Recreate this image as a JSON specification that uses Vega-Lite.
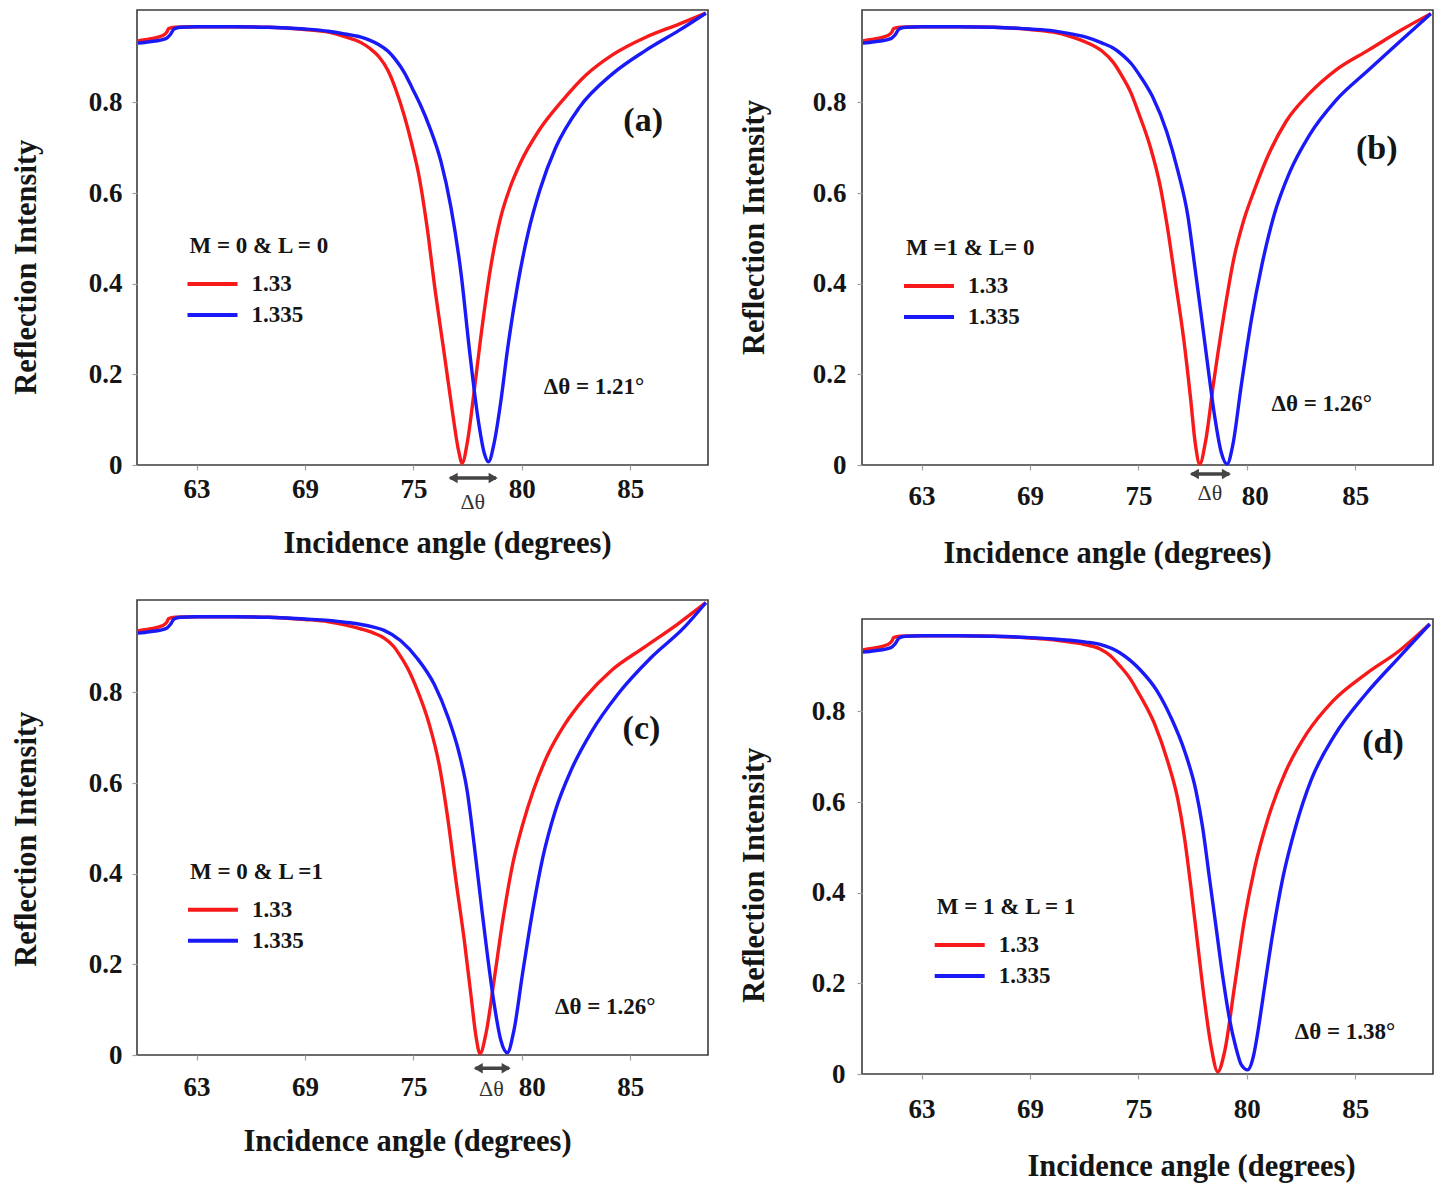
{
  "$schema": "https://vega.github.io/schema/vega-lite/v6.json",
  "background": "white",
  "padding": {"left": 10, "top": 5, "right": 4, "bottom": 4},
  "config": {
    "font": "Liberation Serif",
    "view": {"stroke": "#3c3c3c", "strokeWidth": 1.6},
    "axis": {
      "domain": false, "grid": false, "tickColor": "#a0a0a0", "tickSize": 5, "tickWidth": 1.2,
      "labelFont": "Liberation Serif", "labelFontWeight": "bold", "labelFontSize": 27, "labelColor": "#151515",
      "labelFlush": false, "labelOverlap": false,
      "titleFont": "Liberation Serif", "titleFontWeight": "bold", "titleFontSize": 30.5, "titleColor": "#151515"
    },
    "legend": {
      "orient": "none", "direction": "vertical", "padding": 0,
      "symbolType": "M-1.4,0H3.6", "symbolSize": 400, "symbolStrokeWidth": 4,
      "labelOffset": 38, "rowPadding": 7, "titlePadding": 14,
      "titleFont": "Liberation Serif", "titleFontWeight": "bold", "titleFontSize": 23, "titleColor": "#151515",
      "labelFont": "Liberation Serif", "labelFontWeight": "bold", "labelFontSize": 23, "labelColor": "#151515"
    }
  },
  "datasets": {
    "a": [
      {"angle": 59.75, "R": 0.936, "n": "1.33"}, {"angle": 60.4, "R": 0.940, "n": "1.33"}, {"angle": 61.1, "R": 0.947, "n": "1.33"},
      {"angle": 61.35, "R": 0.955, "n": "1.33"}, {"angle": 61.45, "R": 0.963, "n": "1.33"}, {"angle": 61.8, "R": 0.966, "n": "1.33"},
      {"angle": 63, "R": 0.967, "n": "1.33"}, {"angle": 65, "R": 0.967, "n": "1.33"}, {"angle": 67, "R": 0.966, "n": "1.33"},
      {"angle": 69, "R": 0.961, "n": "1.33"}, {"angle": 70.3, "R": 0.955, "n": "1.33"}, {"angle": 71.2, "R": 0.945, "n": "1.33"},
      {"angle": 72.1, "R": 0.932, "n": "1.33"}, {"angle": 72.6, "R": 0.919, "n": "1.33"}, {"angle": 73.07, "R": 0.902, "n": "1.33"},
      {"angle": 73.6, "R": 0.870, "n": "1.33"}, {"angle": 74.04, "R": 0.827, "n": "1.33"}, {"angle": 74.5, "R": 0.770, "n": "1.33"},
      {"angle": 74.93, "R": 0.705, "n": "1.33"}, {"angle": 75.25, "R": 0.640, "n": "1.33"}, {"angle": 75.63, "R": 0.525, "n": "1.33"},
      {"angle": 76.01, "R": 0.383, "n": "1.33"}, {"angle": 76.4, "R": 0.253, "n": "1.33"}, {"angle": 76.79, "R": 0.121, "n": "1.33"},
      {"angle": 77.09, "R": 0.030, "n": "1.33"}, {"angle": 77.25, "R": 0.004, "n": "1.33"}, {"angle": 77.48, "R": 0.048, "n": "1.33"},
      {"angle": 77.79, "R": 0.158, "n": "1.33"}, {"angle": 78.09, "R": 0.275, "n": "1.33"}, {"angle": 78.55, "R": 0.432, "n": "1.33"},
      {"angle": 79.02, "R": 0.545, "n": "1.33"}, {"angle": 79.48, "R": 0.615, "n": "1.33"}, {"angle": 79.94, "R": 0.667, "n": "1.33"},
      {"angle": 80.79, "R": 0.738, "n": "1.33"}, {"angle": 81.87, "R": 0.804, "n": "1.33"}, {"angle": 82.95, "R": 0.860, "n": "1.33"},
      {"angle": 84.18, "R": 0.905, "n": "1.33"}, {"angle": 85.72, "R": 0.944, "n": "1.33"}, {"angle": 87.26, "R": 0.973, "n": "1.33"},
      {"angle": 88.5, "R": 0.997, "n": "1.33"},
      {"angle": 59.75, "R": 0.931, "n": "1.335"}, {"angle": 60.4, "R": 0.934, "n": "1.335"}, {"angle": 61.3, "R": 0.941, "n": "1.335"},
      {"angle": 61.55, "R": 0.950, "n": "1.335"}, {"angle": 61.75, "R": 0.962, "n": "1.335"}, {"angle": 62.1, "R": 0.966, "n": "1.335"},
      {"angle": 63, "R": 0.967, "n": "1.335"}, {"angle": 65, "R": 0.967, "n": "1.335"}, {"angle": 67, "R": 0.966, "n": "1.335"},
      {"angle": 69, "R": 0.962, "n": "1.335"}, {"angle": 70.3, "R": 0.957, "n": "1.335"}, {"angle": 71.2, "R": 0.951, "n": "1.335"},
      {"angle": 72.1, "R": 0.944, "n": "1.335"}, {"angle": 72.6, "R": 0.937, "n": "1.335"}, {"angle": 73.07, "R": 0.928, "n": "1.335"},
      {"angle": 73.6, "R": 0.913, "n": "1.335"}, {"angle": 74.0, "R": 0.895, "n": "1.335"}, {"angle": 74.5, "R": 0.866, "n": "1.335"},
      {"angle": 74.93, "R": 0.832, "n": "1.335"}, {"angle": 75.3, "R": 0.797, "n": "1.335"}, {"angle": 75.76, "R": 0.744, "n": "1.335"},
      {"angle": 76.27, "R": 0.670, "n": "1.335"}, {"angle": 76.73, "R": 0.569, "n": "1.335"}, {"angle": 77.2, "R": 0.422, "n": "1.335"},
      {"angle": 77.58, "R": 0.256, "n": "1.335"}, {"angle": 77.97, "R": 0.106, "n": "1.335"}, {"angle": 78.27, "R": 0.026, "n": "1.335"},
      {"angle": 78.46, "R": 0.007, "n": "1.335"}, {"angle": 78.73, "R": 0.050, "n": "1.335"}, {"angle": 79.04, "R": 0.143, "n": "1.335"},
      {"angle": 79.35, "R": 0.258, "n": "1.335"}, {"angle": 79.81, "R": 0.398, "n": "1.335"}, {"angle": 80.28, "R": 0.510, "n": "1.335"},
      {"angle": 80.84, "R": 0.608, "n": "1.335"}, {"angle": 81.56, "R": 0.700, "n": "1.335"}, {"angle": 82.64, "R": 0.788, "n": "1.335"},
      {"angle": 84.18, "R": 0.863, "n": "1.335"}, {"angle": 85.72, "R": 0.915, "n": "1.335"}, {"angle": 87.26, "R": 0.959, "n": "1.335"},
      {"angle": 88.5, "R": 0.997, "n": "1.335"}
    ],
    "b": [
      {"angle": 59.75, "R": 0.936, "n": "1.33"}, {"angle": 60.4, "R": 0.940, "n": "1.33"}, {"angle": 61.1, "R": 0.947, "n": "1.33"},
      {"angle": 61.35, "R": 0.955, "n": "1.33"}, {"angle": 61.45, "R": 0.963, "n": "1.33"}, {"angle": 61.8, "R": 0.966, "n": "1.33"},
      {"angle": 63, "R": 0.967, "n": "1.33"}, {"angle": 65, "R": 0.967, "n": "1.33"}, {"angle": 67, "R": 0.966, "n": "1.33"},
      {"angle": 69, "R": 0.961, "n": "1.33"}, {"angle": 70.3, "R": 0.955, "n": "1.33"}, {"angle": 71.2, "R": 0.946, "n": "1.33"},
      {"angle": 72.1, "R": 0.933, "n": "1.33"}, {"angle": 73.0, "R": 0.913, "n": "1.33"}, {"angle": 73.6, "R": 0.889, "n": "1.33"},
      {"angle": 74.11, "R": 0.857, "n": "1.33"}, {"angle": 74.6, "R": 0.820, "n": "1.33"}, {"angle": 74.98, "R": 0.780, "n": "1.33"},
      {"angle": 75.56, "R": 0.700, "n": "1.33"}, {"angle": 76.02, "R": 0.612, "n": "1.33"}, {"angle": 76.32, "R": 0.530, "n": "1.33"},
      {"angle": 76.71, "R": 0.404, "n": "1.33"}, {"angle": 77.09, "R": 0.278, "n": "1.33"}, {"angle": 77.4, "R": 0.150, "n": "1.33"},
      {"angle": 77.63, "R": 0.045, "n": "1.33"}, {"angle": 77.83, "R": 0.002, "n": "1.33"}, {"angle": 78.09, "R": 0.050, "n": "1.33"},
      {"angle": 78.47, "R": 0.182, "n": "1.33"}, {"angle": 78.94, "R": 0.330, "n": "1.33"}, {"angle": 79.4, "R": 0.455, "n": "1.33"},
      {"angle": 79.86, "R": 0.540, "n": "1.33"}, {"angle": 80.36, "R": 0.608, "n": "1.33"}, {"angle": 81.05, "R": 0.690, "n": "1.33"},
      {"angle": 81.81, "R": 0.758, "n": "1.33"}, {"angle": 82.89, "R": 0.820, "n": "1.33"}, {"angle": 84.12, "R": 0.872, "n": "1.33"},
      {"angle": 85.63, "R": 0.916, "n": "1.33"}, {"angle": 87.17, "R": 0.961, "n": "1.33"}, {"angle": 88.5, "R": 0.996, "n": "1.33"},
      {"angle": 59.75, "R": 0.931, "n": "1.335"}, {"angle": 60.4, "R": 0.934, "n": "1.335"}, {"angle": 61.3, "R": 0.941, "n": "1.335"},
      {"angle": 61.55, "R": 0.950, "n": "1.335"}, {"angle": 61.75, "R": 0.962, "n": "1.335"}, {"angle": 62.1, "R": 0.966, "n": "1.335"},
      {"angle": 63, "R": 0.967, "n": "1.335"}, {"angle": 65, "R": 0.967, "n": "1.335"}, {"angle": 67, "R": 0.966, "n": "1.335"},
      {"angle": 69, "R": 0.962, "n": "1.335"}, {"angle": 70.3, "R": 0.958, "n": "1.335"}, {"angle": 71.2, "R": 0.952, "n": "1.335"},
      {"angle": 72.1, "R": 0.944, "n": "1.335"}, {"angle": 73.0, "R": 0.931, "n": "1.335"}, {"angle": 73.6, "R": 0.920, "n": "1.335"},
      {"angle": 74.11, "R": 0.905, "n": "1.335"}, {"angle": 74.6, "R": 0.886, "n": "1.335"}, {"angle": 75.03, "R": 0.862, "n": "1.335"},
      {"angle": 75.65, "R": 0.813, "n": "1.335"}, {"angle": 76.31, "R": 0.735, "n": "1.335"}, {"angle": 76.82, "R": 0.649, "n": "1.335"},
      {"angle": 77.28, "R": 0.550, "n": "1.335"}, {"angle": 77.59, "R": 0.442, "n": "1.335"}, {"angle": 77.9, "R": 0.330, "n": "1.335"},
      {"angle": 78.2, "R": 0.219, "n": "1.335"}, {"angle": 78.51, "R": 0.110, "n": "1.335"}, {"angle": 78.82, "R": 0.028, "n": "1.335"},
      {"angle": 79.09, "R": 0.002, "n": "1.335"}, {"angle": 79.35, "R": 0.043, "n": "1.335"}, {"angle": 79.74, "R": 0.174, "n": "1.335"},
      {"angle": 80.22, "R": 0.323, "n": "1.335"}, {"angle": 80.69, "R": 0.440, "n": "1.335"}, {"angle": 81.25, "R": 0.550, "n": "1.335"},
      {"angle": 81.97, "R": 0.645, "n": "1.335"}, {"angle": 82.89, "R": 0.728, "n": "1.335"}, {"angle": 84.12, "R": 0.805, "n": "1.335"},
      {"angle": 85.63, "R": 0.872, "n": "1.335"}, {"angle": 87.17, "R": 0.939, "n": "1.335"}, {"angle": 88.5, "R": 0.996, "n": "1.335"}
    ],
    "c": [
      {"angle": 59.75, "R": 0.936, "n": "1.33"}, {"angle": 60.4, "R": 0.940, "n": "1.33"}, {"angle": 61.1, "R": 0.947, "n": "1.33"},
      {"angle": 61.35, "R": 0.955, "n": "1.33"}, {"angle": 61.45, "R": 0.963, "n": "1.33"}, {"angle": 61.8, "R": 0.966, "n": "1.33"},
      {"angle": 63, "R": 0.967, "n": "1.33"}, {"angle": 65, "R": 0.967, "n": "1.33"}, {"angle": 67, "R": 0.966, "n": "1.33"},
      {"angle": 69, "R": 0.961, "n": "1.33"}, {"angle": 70.3, "R": 0.956, "n": "1.33"}, {"angle": 71.2, "R": 0.949, "n": "1.33"},
      {"angle": 72.1, "R": 0.940, "n": "1.33"}, {"angle": 72.8, "R": 0.931, "n": "1.33"}, {"angle": 73.38, "R": 0.920, "n": "1.33"},
      {"angle": 73.9, "R": 0.902, "n": "1.33"}, {"angle": 74.3, "R": 0.879, "n": "1.33"}, {"angle": 74.75, "R": 0.848, "n": "1.33"},
      {"angle": 75.15, "R": 0.809, "n": "1.33"}, {"angle": 75.73, "R": 0.730, "n": "1.33"}, {"angle": 76.2, "R": 0.638, "n": "1.33"},
      {"angle": 76.58, "R": 0.524, "n": "1.33"}, {"angle": 76.96, "R": 0.386, "n": "1.33"}, {"angle": 77.35, "R": 0.252, "n": "1.33"},
      {"angle": 77.66, "R": 0.130, "n": "1.33"}, {"angle": 77.89, "R": 0.040, "n": "1.33"}, {"angle": 78.07, "R": 0.003, "n": "1.33"},
      {"angle": 78.35, "R": 0.048, "n": "1.33"}, {"angle": 78.74, "R": 0.171, "n": "1.33"}, {"angle": 79.12, "R": 0.296, "n": "1.33"},
      {"angle": 79.58, "R": 0.421, "n": "1.33"}, {"angle": 80.05, "R": 0.510, "n": "1.33"}, {"angle": 80.53, "R": 0.583, "n": "1.33"},
      {"angle": 81.19, "R": 0.662, "n": "1.33"}, {"angle": 81.96, "R": 0.728, "n": "1.33"}, {"angle": 82.88, "R": 0.787, "n": "1.33"},
      {"angle": 84.12, "R": 0.848, "n": "1.33"}, {"angle": 85.66, "R": 0.900, "n": "1.33"}, {"angle": 87.2, "R": 0.951, "n": "1.33"},
      {"angle": 88.5, "R": 0.998, "n": "1.33"},
      {"angle": 59.75, "R": 0.931, "n": "1.335"}, {"angle": 60.4, "R": 0.934, "n": "1.335"}, {"angle": 61.3, "R": 0.941, "n": "1.335"},
      {"angle": 61.55, "R": 0.950, "n": "1.335"}, {"angle": 61.75, "R": 0.962, "n": "1.335"}, {"angle": 62.1, "R": 0.966, "n": "1.335"},
      {"angle": 63, "R": 0.967, "n": "1.335"}, {"angle": 65, "R": 0.967, "n": "1.335"}, {"angle": 67, "R": 0.966, "n": "1.335"},
      {"angle": 69, "R": 0.962, "n": "1.335"}, {"angle": 70.3, "R": 0.959, "n": "1.335"}, {"angle": 71.2, "R": 0.955, "n": "1.335"},
      {"angle": 72.1, "R": 0.950, "n": "1.335"}, {"angle": 72.8, "R": 0.944, "n": "1.335"}, {"angle": 73.38, "R": 0.937, "n": "1.335"},
      {"angle": 74.3, "R": 0.914, "n": "1.335"}, {"angle": 75.18, "R": 0.875, "n": "1.335"}, {"angle": 75.96, "R": 0.818, "n": "1.335"},
      {"angle": 76.6, "R": 0.745, "n": "1.335"}, {"angle": 77.1, "R": 0.668, "n": "1.335"}, {"angle": 77.49, "R": 0.580, "n": "1.335"},
      {"angle": 77.8, "R": 0.465, "n": "1.335"}, {"angle": 78.11, "R": 0.340, "n": "1.335"}, {"angle": 78.41, "R": 0.222, "n": "1.335"},
      {"angle": 78.72, "R": 0.114, "n": "1.335"}, {"angle": 79.03, "R": 0.033, "n": "1.335"}, {"angle": 79.33, "R": 0.005, "n": "1.335"},
      {"angle": 79.64, "R": 0.055, "n": "1.335"}, {"angle": 80.03, "R": 0.178, "n": "1.335"}, {"angle": 80.5, "R": 0.318, "n": "1.335"},
      {"angle": 80.96, "R": 0.434, "n": "1.335"}, {"angle": 81.54, "R": 0.538, "n": "1.335"}, {"angle": 82.27, "R": 0.628, "n": "1.335"},
      {"angle": 83.2, "R": 0.712, "n": "1.335"}, {"angle": 84.43, "R": 0.796, "n": "1.335"}, {"angle": 85.97, "R": 0.877, "n": "1.335"},
      {"angle": 87.51, "R": 0.944, "n": "1.335"}, {"angle": 88.5, "R": 0.998, "n": "1.335"}
    ],
    "d": [
      {"angle": 59.75, "R": 0.936, "n": "1.33"}, {"angle": 60.4, "R": 0.940, "n": "1.33"}, {"angle": 61.1, "R": 0.947, "n": "1.33"},
      {"angle": 61.35, "R": 0.955, "n": "1.33"}, {"angle": 61.45, "R": 0.963, "n": "1.33"}, {"angle": 61.8, "R": 0.966, "n": "1.33"},
      {"angle": 63, "R": 0.967, "n": "1.33"}, {"angle": 65, "R": 0.967, "n": "1.33"}, {"angle": 67, "R": 0.966, "n": "1.33"},
      {"angle": 69, "R": 0.962, "n": "1.33"}, {"angle": 70.3, "R": 0.958, "n": "1.33"}, {"angle": 71.2, "R": 0.953, "n": "1.33"},
      {"angle": 72.1, "R": 0.947, "n": "1.33"}, {"angle": 72.88, "R": 0.938, "n": "1.33"}, {"angle": 73.45, "R": 0.923, "n": "1.33"},
      {"angle": 73.99, "R": 0.900, "n": "1.33"}, {"angle": 74.55, "R": 0.872, "n": "1.33"}, {"angle": 75.03, "R": 0.839, "n": "1.33"},
      {"angle": 75.74, "R": 0.773, "n": "1.33"}, {"angle": 76.35, "R": 0.690, "n": "1.33"}, {"angle": 76.81, "R": 0.608, "n": "1.33"},
      {"angle": 77.12, "R": 0.523, "n": "1.33"}, {"angle": 77.42, "R": 0.413, "n": "1.33"}, {"angle": 77.73, "R": 0.288, "n": "1.33"},
      {"angle": 78.04, "R": 0.165, "n": "1.33"}, {"angle": 78.35, "R": 0.062, "n": "1.33"}, {"angle": 78.66, "R": 0.005, "n": "1.33"},
      {"angle": 78.97, "R": 0.048, "n": "1.33"}, {"angle": 79.43, "R": 0.192, "n": "1.33"}, {"angle": 79.89, "R": 0.340, "n": "1.33"},
      {"angle": 80.35, "R": 0.452, "n": "1.33"}, {"angle": 81.0, "R": 0.567, "n": "1.33"}, {"angle": 81.8, "R": 0.668, "n": "1.33"},
      {"angle": 82.76, "R": 0.751, "n": "1.33"}, {"angle": 83.99, "R": 0.824, "n": "1.33"}, {"angle": 85.5, "R": 0.883, "n": "1.33"},
      {"angle": 87.04, "R": 0.934, "n": "1.33"}, {"angle": 88.45, "R": 0.993, "n": "1.33"},
      {"angle": 59.75, "R": 0.931, "n": "1.335"}, {"angle": 60.4, "R": 0.934, "n": "1.335"}, {"angle": 61.3, "R": 0.941, "n": "1.335"},
      {"angle": 61.55, "R": 0.950, "n": "1.335"}, {"angle": 61.75, "R": 0.962, "n": "1.335"}, {"angle": 62.1, "R": 0.966, "n": "1.335"},
      {"angle": 63, "R": 0.967, "n": "1.335"}, {"angle": 65, "R": 0.967, "n": "1.335"}, {"angle": 67, "R": 0.966, "n": "1.335"},
      {"angle": 69, "R": 0.963, "n": "1.335"}, {"angle": 70.3, "R": 0.960, "n": "1.335"}, {"angle": 71.2, "R": 0.957, "n": "1.335"},
      {"angle": 72.1, "R": 0.953, "n": "1.335"}, {"angle": 72.88, "R": 0.948, "n": "1.335"}, {"angle": 73.99, "R": 0.929, "n": "1.335"},
      {"angle": 75.08, "R": 0.892, "n": "1.335"}, {"angle": 75.85, "R": 0.846, "n": "1.335"}, {"angle": 76.5, "R": 0.787, "n": "1.335"},
      {"angle": 77.15, "R": 0.710, "n": "1.335"}, {"angle": 77.65, "R": 0.626, "n": "1.335"}, {"angle": 77.96, "R": 0.545, "n": "1.335"},
      {"angle": 78.27, "R": 0.435, "n": "1.335"}, {"angle": 78.58, "R": 0.325, "n": "1.335"}, {"angle": 78.89, "R": 0.215, "n": "1.335"},
      {"angle": 79.2, "R": 0.122, "n": "1.335"}, {"angle": 79.5, "R": 0.058, "n": "1.335"}, {"angle": 79.75, "R": 0.020, "n": "1.335"},
      {"angle": 80.04, "R": 0.009, "n": "1.335"}, {"angle": 80.3, "R": 0.038, "n": "1.335"}, {"angle": 80.5, "R": 0.090, "n": "1.335"},
      {"angle": 80.73, "R": 0.163, "n": "1.335"}, {"angle": 81.19, "R": 0.308, "n": "1.335"}, {"angle": 81.65, "R": 0.430, "n": "1.335"},
      {"angle": 82.25, "R": 0.545, "n": "1.335"}, {"angle": 82.98, "R": 0.650, "n": "1.335"}, {"angle": 84.02, "R": 0.745, "n": "1.335"},
      {"angle": 85.5, "R": 0.839, "n": "1.335"}, {"angle": 87.04, "R": 0.920, "n": "1.335"}, {"angle": 88.45, "R": 0.993, "n": "1.335"}
    ]
  },
  "resolve": {"scale": {"x": "independent", "y": "independent", "color": "independent"}, "legend": {"color": "independent"}},
  "spacing": 24,
  "hconcat": [
    {
      "spacing": 35,
      "resolve": {"scale": {"x": "independent", "y": "independent", "color": "independent"}, "legend": {"color": "independent"}},
      "vconcat": [
        {
          "width": 571, "height": 455,
          "layer": [
            {
              "data": {"name": "a"},
              "mark": {"type": "line", "strokeWidth": 3.4, "interpolate": "monotone"},
              "encoding": {
                "x": {"field": "angle", "type": "quantitative",
                  "scale": {"domain": [59.7, 63, 69, 75, 80, 85, 88.6], "range": [0, 59.6, 168, 276.4, 384.8, 493.2, 571], "zero": false, "nice": false},
                  "axis": {"values": [63, 69, 75, 80, 85], "title": "Incidence angle (degrees)", "titleX": 310, "titleY": 78, "titleBaseline": "middle", "labelPadding": 6}},
                "y": {"field": "R", "type": "quantitative",
                  "scale": {"domain": [0, 1.004], "zero": false, "nice": false},
                  "axis": {"values": [0, 0.2, 0.4, 0.6, 0.8], "labelExpr": "datum.value === 0 ? '0' : format(datum.value, '.1f')", "title": "Reflection Intensity", "titleX": -110.6, "titleY": 256.7, "titleBaseline": "middle", "labelPadding": 10}},
                "color": {"field": "n", "type": "nominal",
                  "scale": {"domain": ["1.33", "1.335"], "range": ["#f81a1a", "#1a1af8"]},
                  "legend": {"title": "M = 0 & L = 0", "legendX": 52.5, "legendY": 225}}
              }
            },
            {"data": {"values": [{"label": "(a)"}]}, "mark": {"type": "text", "fontSize": 34, "fontWeight": "bold", "color": "#151515"},
             "encoding": {"x": {"datum": 85.6}, "y": {"datum": 0.76}, "text": {"field": "label"}}},
            {"data": {"values": [{"label": "Δθ = 1.21°"}]}, "mark": {"type": "text", "fontSize": 23, "fontWeight": "bold", "color": "#151515"},
             "encoding": {"x": {"datum": 83.33}, "y": {"datum": 0.172}, "text": {"field": "label"}}},
            {"data": {"values": [{}]}, "mark": {"type": "rule", "strokeWidth": 3.5, "color": "#444444"},
             "encoding": {"x": {"datum": 76.7}, "x2": {"datum": 78.81}, "y": {"datum": -0.0287}}},
            {"data": {"values": [{}]}, "mark": {"type": "point", "shape": "triangle-left", "filled": true, "size": 110, "color": "#444444", "opacity": 1},
             "encoding": {"x": {"datum": 76.83}, "y": {"datum": -0.0287}}},
            {"data": {"values": [{}]}, "mark": {"type": "point", "shape": "triangle-right", "filled": true, "size": 110, "color": "#444444", "opacity": 1},
             "encoding": {"x": {"datum": 78.68}, "y": {"datum": -0.0287}}},
            {"data": {"values": [{"label": "Δθ"}]}, "mark": {"type": "text", "fontSize": 22, "color": "#333333"},
             "encoding": {"x": {"datum": 77.74}, "y": {"datum": -0.081}, "text": {"field": "label"}}}
          ]
        },
        {
          "width": 571, "height": 455,
          "layer": [
            {
              "data": {"name": "c"},
              "mark": {"type": "line", "strokeWidth": 3.4, "interpolate": "monotone"},
              "encoding": {
                "x": {"field": "angle", "type": "quantitative",
                  "scale": {"domain": [59.7, 63, 69, 75, 80, 85, 88.6], "range": [0, 59.6, 168, 276.4, 384.8, 493.2, 571], "zero": false, "nice": false},
                  "axis": {"values": [63, 69, 75, 80, 85], "title": "Incidence angle (degrees)", "titleX": 270, "titleY": 86, "titleBaseline": "middle", "labelPadding": 14,
                    "labelOffset": {"condition": {"test": "datum.value === 80", "value": 10}, "value": 0}}},
                "y": {"field": "R", "type": "quantitative",
                  "scale": {"domain": [0, 1.004], "zero": false, "nice": false},
                  "axis": {"values": [0, 0.2, 0.4, 0.6, 0.8], "labelExpr": "datum.value === 0 ? '0' : format(datum.value, '.1f')", "title": "Reflection Intensity", "titleX": -110.6, "titleY": 238.7, "titleBaseline": "middle", "labelPadding": 10}},
                "color": {"field": "n", "type": "nominal",
                  "scale": {"domain": ["1.33", "1.335"], "range": ["#f81a1a", "#1a1af8"]},
                  "legend": {"title": "M = 0 & L =1", "legendX": 53, "legendY": 260.7}}
              }
            },
            {"data": {"values": [{"label": "(c)"}]}, "mark": {"type": "text", "fontSize": 34, "fontWeight": "bold", "color": "#151515"},
             "encoding": {"x": {"datum": 85.52}, "y": {"datum": 0.7185}, "text": {"field": "label"}}},
            {"data": {"values": [{"label": "Δθ = 1.26°"}]}, "mark": {"type": "text", "fontSize": 23, "fontWeight": "bold", "color": "#151515"},
             "encoding": {"x": {"datum": 83.85}, "y": {"datum": 0.106}, "text": {"field": "label"}}},
            {"data": {"values": [{}]}, "mark": {"type": "rule", "strokeWidth": 3.5, "color": "#444444"},
             "encoding": {"x": {"datum": 77.86}, "x2": {"datum": 79.41}, "y": {"datum": -0.029}}},
            {"data": {"values": [{}]}, "mark": {"type": "point", "shape": "triangle-left", "filled": true, "size": 110, "color": "#444444", "opacity": 1},
             "encoding": {"x": {"datum": 77.99}, "y": {"datum": -0.029}}},
            {"data": {"values": [{}]}, "mark": {"type": "point", "shape": "triangle-right", "filled": true, "size": 110, "color": "#444444", "opacity": 1},
             "encoding": {"x": {"datum": 79.28}, "y": {"datum": -0.029}}},
            {"data": {"values": [{"label": "Δθ"}]}, "mark": {"type": "text", "fontSize": 22, "color": "#333333"},
             "encoding": {"x": {"datum": 78.6}, "y": {"datum": -0.075}, "text": {"field": "label"}}}
          ]
        }
      ]
    },
    {
      "spacing": 46,
      "resolve": {"scale": {"x": "independent", "y": "independent", "color": "independent"}, "legend": {"color": "independent"}},
      "vconcat": [
        {
          "width": 571, "height": 455,
          "layer": [
            {
              "data": {"name": "b"},
              "mark": {"type": "line", "strokeWidth": 3.4, "interpolate": "monotone"},
              "encoding": {
                "x": {"field": "angle", "type": "quantitative",
                  "scale": {"domain": [59.7, 63, 69, 75, 80, 85, 88.6], "range": [0, 59.6, 168, 276.4, 384.8, 493.2, 571], "zero": false, "nice": false},
                  "axis": {"values": [63, 69, 75, 80, 85], "title": "Incidence angle (degrees)", "titleX": 245, "titleY": 88, "titleBaseline": "middle", "labelPadding": 13,
                    "labelOffset": {"condition": {"test": "datum.value === 80", "value": 8}, "value": 0}}},
                "y": {"field": "R", "type": "quantitative",
                  "scale": {"domain": [0, 1.004], "zero": false, "nice": false},
                  "axis": {"values": [0, 0.2, 0.4, 0.6, 0.8], "labelExpr": "datum.value === 0 ? '0' : format(datum.value, '.1f')", "title": "Reflection Intensity", "titleX": -108, "titleY": 217, "titleBaseline": "middle", "labelPadding": 11}},
                "color": {"field": "n", "type": "nominal",
                  "scale": {"domain": ["1.33", "1.335"], "range": ["#f81a1a", "#1a1af8"]},
                  "legend": {"title": "M =1 & L= 0", "legendX": 44, "legendY": 227}}
              }
            },
            {"data": {"values": [{"label": "(b)"}]}, "mark": {"type": "text", "fontSize": 34, "fontWeight": "bold", "color": "#151515"},
             "encoding": {"x": {"datum": 86.0}, "y": {"datum": 0.698}, "text": {"field": "label"}}},
            {"data": {"values": [{"label": "Δθ = 1.26°"}]}, "mark": {"type": "text", "fontSize": 23, "fontWeight": "bold", "color": "#151515"},
             "encoding": {"x": {"datum": 83.46}, "y": {"datum": 0.135}, "text": {"field": "label"}}},
            {"data": {"values": [{}]}, "mark": {"type": "rule", "strokeWidth": 3.5, "color": "#444444"},
             "encoding": {"x": {"datum": 77.45}, "x2": {"datum": 79.19}, "y": {"datum": -0.02}}},
            {"data": {"values": [{}]}, "mark": {"type": "point", "shape": "triangle-left", "filled": true, "size": 110, "color": "#444444", "opacity": 1},
             "encoding": {"x": {"datum": 77.58}, "y": {"datum": -0.02}}},
            {"data": {"values": [{}]}, "mark": {"type": "point", "shape": "triangle-right", "filled": true, "size": 110, "color": "#444444", "opacity": 1},
             "encoding": {"x": {"datum": 79.06}, "y": {"datum": -0.02}}},
            {"data": {"values": [{"label": "Δθ"}]}, "mark": {"type": "text", "fontSize": 22, "color": "#333333"},
             "encoding": {"x": {"datum": 78.3}, "y": {"datum": -0.062}, "text": {"field": "label"}}}
          ]
        },
        {
          "width": 571, "height": 455,
          "layer": [
            {
              "data": {"name": "d"},
              "mark": {"type": "line", "strokeWidth": 3.4, "interpolate": "monotone"},
              "encoding": {
                "x": {"field": "angle", "type": "quantitative",
                  "scale": {"domain": [59.7, 63, 69, 75, 80, 85, 88.6], "range": [0, 59.6, 168, 276.4, 384.8, 493.2, 571], "zero": false, "nice": false},
                  "axis": {"values": [63, 69, 75, 80, 85], "title": "Incidence angle (degrees)", "titleX": 329, "titleY": 92, "titleBaseline": "middle", "labelPadding": 17}},
                "y": {"field": "R", "type": "quantitative",
                  "scale": {"domain": [0, 1.004], "zero": false, "nice": false},
                  "axis": {"values": [0, 0.2, 0.4, 0.6, 0.8], "labelExpr": "datum.value === 0 ? '0' : format(datum.value, '.1f')", "title": "Reflection Intensity", "titleX": -108, "titleY": 255.7, "titleBaseline": "middle", "labelPadding": 12}},
                "color": {"field": "n", "type": "nominal",
                  "scale": {"domain": ["1.33", "1.335"], "range": ["#f81a1a", "#1a1af8"]},
                  "legend": {"title": "M = 1 & L = 1", "legendX": 74.7, "legendY": 277}}
              }
            },
            {"data": {"values": [{"label": "(d)"}]}, "mark": {"type": "text", "fontSize": 34, "fontWeight": "bold", "color": "#151515"},
             "encoding": {"x": {"datum": 86.29}, "y": {"datum": 0.7295}, "text": {"field": "label"}}},
            {"data": {"values": [{"label": "Δθ = 1.38°"}]}, "mark": {"type": "text", "fontSize": 23, "fontWeight": "bold", "color": "#151515"},
             "encoding": {"x": {"datum": 84.53}, "y": {"datum": 0.0926}, "text": {"field": "label"}}}
          ]
        }
      ]
    }
  ]
}
